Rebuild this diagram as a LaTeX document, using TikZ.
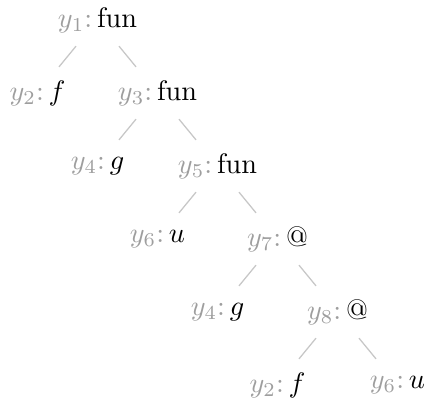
\documentclass[tikz,border=0pt]{standalone}
\newcommand{\varlab}[2]{\textcolor{black!38}{$y_{#1}$:}\,#2}
\begin{document}
\begin{tikzpicture}[x=0.3546pt, y=-0.3546pt,
  tn/.style={inner sep=0pt, anchor=center, text=black},
  link/.style={draw=black!22, line width=0.45pt, shorten <=12pt, shorten >=12pt}]
\useasboundingbox (0,0) rectangle (427,405);

% term nodes, one row per level
\node[tn] (a1)  at (97.5,20)  {\varlab{1}{fun}};
\node[tn] (a2)  at (37.5,93)  {\varlab{2}{$f$}};
\node[tn] (a3)  at (157.5,93) {\varlab{3}{fun}};
\node[tn] (a4)  at (97.5,166) {\varlab{4}{$g$}};
\node[tn] (a5)  at (217.5,166){\varlab{5}{fun}};
\node[tn] (a6)  at (157.5,239){\varlab{6}{$u$}};
\node[tn] (a7)  at (277.5,239){\varlab{7}{@}};
\node[tn] (a8)  at (217.5,312){\varlab{4}{$g$}};
\node[tn] (a9)  at (337.5,312){\varlab{8}{@}};
\node[tn] (a10) at (277.5,385){\varlab{2}{$f$}};
\node[tn] (a11) at (397.5,385){\varlab{6}{$u$}};

% parent-child links
\foreach \p/\c in {a1/a2, a1/a3, a3/a4, a3/a5, a5/a6, a5/a7, a7/a8, a7/a9, a9/a10, a9/a11}
  \draw[link] (\p.center) -- (\c.center);
\end{tikzpicture}
\end{document}
